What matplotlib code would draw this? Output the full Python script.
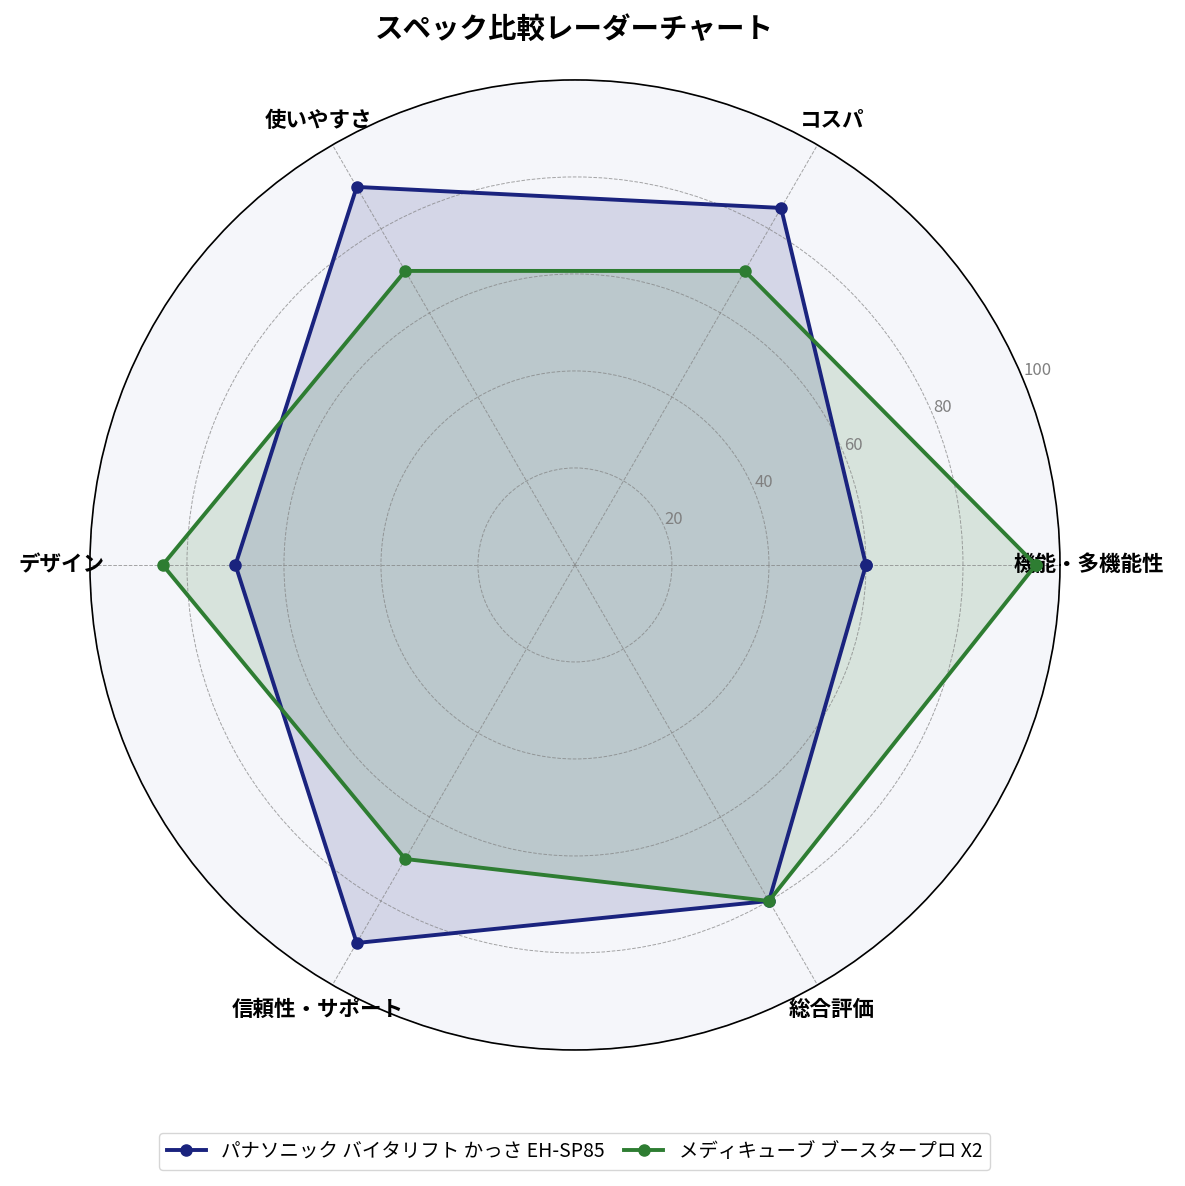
import numpy as np
import matplotlib
matplotlib.use("Agg")
import matplotlib.pyplot as plt

plt.rcParams['font.family'] = ['Noto Sans CJK JP', 'DejaVu Sans']

# data
categories = ["機能・多機能性", "コスパ", "使いやすさ", "デザイン", "信頼性・サポート", "総合評価"]
panasonic = [60, 85, 90, 70, 90, 80]
medicube = [95, 70, 70, 85, 70, 80]
series_names = ["パナソニック バイタリフト かっさ EH-SP85", "メディキューブ ブースタープロ X2"]
r_ticks = [20, 40, 60, 80, 100]

colors = ["#1a237e", "#2e7d32"]

n = len(categories)
angles = np.linspace(0, 2 * np.pi, n, endpoint=False).tolist()
angles_closed = angles + angles[:1]

fig = plt.figure(figsize=(11.85, 11.86), dpi=100)
ax = fig.add_axes([0.0759, 0.1147, 0.8186, 0.8179], polar=True)
ax.set_facecolor("#f5f6fa")

for vals, name, c in zip([panasonic, medicube], series_names, colors):
    v = vals + vals[:1]
    ax.plot(angles_closed, v, color=c, linewidth=2.8, marker="o", markersize=8, label=name)
    ax.fill(angles_closed, v, color=c, alpha=0.15)

ax.set_ylim(0, 100)
ax.set_yticks(r_ticks)
ax.set_yticklabels([str(t) for t in r_ticks], color="gray", fontsize=12)
ax.set_rlabel_position(22.5)

ax.set_xticks(angles)
ax.set_xticklabels(categories, fontsize=15.5, fontweight="bold")
ax.tick_params(axis="x", pad=10)
for lab in ax.get_xticklabels():
    lab.set_horizontalalignment("center")

ax.grid(True, color="gray", linestyle="--", linewidth=0.7, alpha=0.7)
ax.spines["polar"].set_color("black")
ax.spines["polar"].set_linewidth(1.2)

fig.text(0.485, 0.9745, "スペック比較レーダーチャート", ha="center", va="center",
         fontsize=20.5, fontweight="bold")

fig.legend(loc="center", bbox_to_anchor=(0.485, 0.029), ncol=2, fontsize=14,
           frameon=True, handlelength=2, columnspacing=1.0)

fig.savefig("out.png", dpi=100)
